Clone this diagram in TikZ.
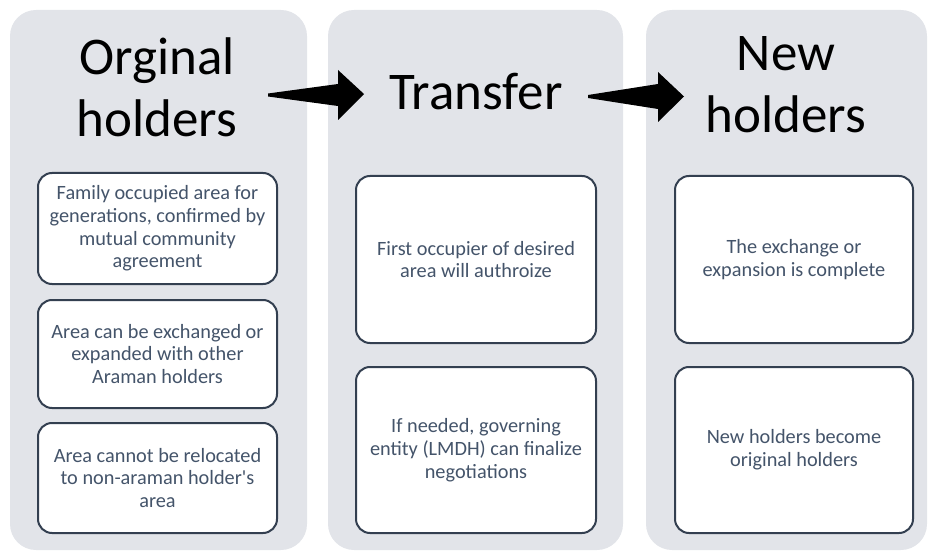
\documentclass[tikz,border=0pt]{standalone}
\usepackage{fontspec}
\setmainfont{Carlito}
\usetikzlibrary{calc}
\definecolor{panelgray}{HTML}{E2E4E9}
\definecolor{boxline}{HTML}{333F50}
\definecolor{boxtext}{HTML}{44546A}
\begin{document}
\begin{tikzpicture}[x=1pt,y=-1pt,
  panel/.style={fill=panelgray, rounded corners=26pt, inner sep=0pt},
  head/.style={font=\fontsize{53}{62}\selectfont, align=center, inner sep=0pt, text=black},
  card/.style={draw=boxline, line width=2pt, fill=white, rounded corners=14pt,
    align=center, text=boxtext, font=\fontsize{20.3}{22.7}\selectfont, inner sep=0pt},
  blockarrow/.style={fill=black}
]
\useasboundingbox (0,0) rectangle (928,553);
% panels
\node[panel, minimum width=297pt, minimum height=540pt] (p1) at (158.5,280) {};
\node[panel, minimum width=295pt, minimum height=540pt] (p2) at (475.5,280) {};
\node[panel, minimum width=281pt, minimum height=540pt] (p3) at (786.5,280) {};
% headings
\node[head, anchor=north] (h1) at (157,38) {Orginal\\holders};
\node[head, anchor=base] (h2) at (476,110) {Transfer};
\node[head, anchor=north] (h3) at (786,36) {New\\holders};
% cards panel 1
\node[card, minimum width=239pt, minimum height=111pt] (c11) at (157.5,228.5)
  {Family occupied area for\\generations, confirmed by\\mutual community\\agreement};
\node[card, minimum width=239pt, minimum height=108pt] (c12) at (157.5,354)
  {Area can be exchanged or\\expanded with other\\Araman holders};
\node[card, minimum width=239pt, minimum height=110pt] (c13) at (157.5,478)
  {Area cannot be relocated\\to non-araman holder\textquotesingle s\\area};
% cards panel 2
\node[card, minimum width=240pt, minimum height=167pt] (c21) at (476,259.5)
  {First occupier of desired\\area will authroize};
\node[card, minimum width=240pt, minimum height=166pt] (c22) at (476,450)
  {If needed, governing\\entity (LMDH) can finalize\\negotiations};
% cards panel 3
\node[card, minimum width=238pt, minimum height=167pt] (c31) at (794,259.5)
  {The exchange or\\expansion is complete};
\node[card, minimum width=238pt, minimum height=166pt] (c32) at (794,450)
  {New holders become\\original holders};
% arrows
\coordinate (a1s) at (268,95);
\coordinate (a1e) at (364,94);
\coordinate (a2s) at (588,96.5);
\coordinate (a2e) at (684,96.5);
\fill[blockarrow] ($(a1s)+(0,-1.5)$) -- (338,84) -- (338,70) -- (a1e) -- (338,120) -- (338,106) -- ($(a1s)+(0,1.5)$) -- cycle;
\fill[blockarrow] ($(a2s)+(0,-1.5)$) -- (658,84) -- (658,72) -- (a2e) -- (658,122) -- (658,109) -- ($(a2s)+(0,1.5)$) -- cycle;
\end{tikzpicture}
\end{document}
